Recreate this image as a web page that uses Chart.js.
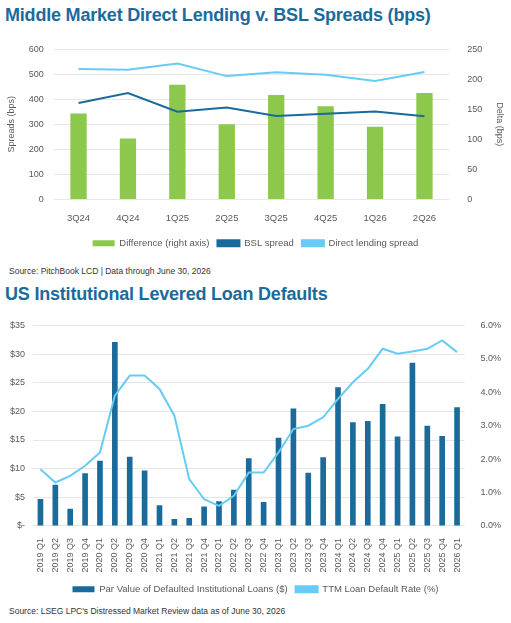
<!DOCTYPE html>
<html><head><meta charset="utf-8">
<script src="https://cdn.jsdelivr.net/npm/chart.js@4"></script>
<style>
body{margin:0;width:511px;height:623px;background:#fff;font-family:"Liberation Sans",Arial,sans-serif;position:relative;overflow:hidden}
.t{position:absolute;left:5px;color:#1b6a9c;font-weight:bold;font-size:18px;letter-spacing:-0.2px}
.s{position:absolute;left:9px;color:#333;font-size:8.5px}
.c{position:absolute;left:0;width:511px}
</style></head><body>
<div class="t" style="top:5px">Middle Market Direct Lending v. BSL Spreads (bps)</div>
<div class="c" style="top:34px;height:224px"><canvas id="c1"></canvas></div>
<div class="s" style="top:266px">Source: PitchBook LCD | Data through June 30, 2026</div>
<div class="t" style="top:284px">US Institutional Levered Loan Defaults</div>
<div class="c" style="top:312px;height:292px"><canvas id="c2"></canvas></div>
<div class="s" style="top:606px">Source: LSEG LPC's Distressed Market Review data as of June 30, 2026</div>
<script>
const quarters1=["3Q24","4Q24","1Q25","2Q25","3Q25","4Q25","1Q26","2Q26"];
const difference=[143,101,191,125,174,155,121,177];
const bslSpread=[385,425,350,367,333,342,351,332];
const dlSpread=[521,518,543,493,508,498,473,509];

const quarters2=["2019 Q1","2019 Q2","2019 Q3","2019 Q4","2020 Q1","2020 Q2","2020 Q3","2020 Q4","2021 Q1","2021 Q2","2021 Q3","2021 Q4","2022 Q1","2022 Q2","2022 Q3","2022 Q4","2023 Q1","2023 Q2","2023 Q3","2023 Q4","2024 Q1","2024 Q2","2024 Q3","2024 Q4","2025 Q1","2025 Q2","2025 Q3","2025 Q4","2026 Q1"];
const parDefaulted=[4.7,7.2,3.0,9.2,11.4,32.1,12.1,9.7,3.6,1.2,1.4,3.4,4.3,6.3,11.8,4.2,15.4,20.5,9.3,12.0,24.2,18.1,18.3,21.3,15.6,28.5,17.5,15.7,20.7];
const ttmRate=[1.7,1.3,1.5,1.8,2.2,3.9,4.5,4.5,4.1,3.3,1.4,0.8,0.6,0.9,1.6,1.6,2.2,2.9,3.0,3.25,3.8,4.3,4.7,5.3,5.15,5.22,5.3,5.55,5.2];

Chart.defaults.font.family='"Liberation Sans",Arial,sans-serif';
Chart.defaults.font.size=9;
Chart.defaults.color='#595959';
Chart.defaults.animation=false;
const grid={color:'#e6e6e6',drawTicks:false};
const legendOpts={position:'bottom',labels:{boxWidth:22,boxHeight:6,padding:8,font:{size:9.5},sort:(a,b)=>a.datasetIndex-b.datasetIndex}};

new Chart(document.getElementById('c1'),{
 data:{labels:quarters1,datasets:[
  {type:'bar',label:'Difference (right axis)',data:difference,backgroundColor:'#8cc84b',yAxisID:'y1',barPercentage:0.33,categoryPercentage:1,order:3},
  {type:'line',label:'BSL spread',data:bslSpread,borderColor:'#1a6b9c',backgroundColor:'#1a6b9c',borderWidth:2,pointRadius:0,yAxisID:'y',order:1},
  {type:'line',label:'Direct lending spread',data:dlSpread,borderColor:'#66ccf5',backgroundColor:'#66ccf5',borderWidth:2,pointRadius:0,yAxisID:'y',order:2}]},
 options:{responsive:true,maintainAspectRatio:false,layout:{padding:{left:4,right:4,top:4}},
  plugins:{legend:legendOpts,tooltip:{enabled:false}},
  scales:{
   x:{grid:{display:false},border:{display:false},ticks:{padding:6,font:{size:9.5}}},
   y:{min:0,max:600,ticks:{stepSize:100,padding:10},grid:grid,border:{display:false},title:{display:true,text:'Spreads (bps)',padding:2}},
   y1:{position:'right',min:0,max:250,ticks:{stepSize:50,padding:10},grid:{display:false},border:{display:false},title:{display:true,text:'Delta (bps)',padding:2}}
  }}
});

new Chart(document.getElementById('c2'),{
 data:{labels:quarters2,datasets:[
  {type:'bar',label:'Par Value of Defaulted Institutional Loans ($)',data:parDefaulted,backgroundColor:'#1a6b9c',yAxisID:'y',barPercentage:0.38,categoryPercentage:1,order:2},
  {type:'line',label:'TTM Loan Default Rate (%)',data:ttmRate,borderColor:'#66ccf5',backgroundColor:'#66ccf5',borderWidth:2,pointRadius:0,yAxisID:'y1',order:1}]},
 options:{responsive:true,maintainAspectRatio:false,layout:{padding:{left:2,right:2,top:2}},
  plugins:{legend:legendOpts,tooltip:{enabled:false}},
  scales:{
   x:{grid:{display:false},border:{display:false},ticks:{minRotation:90,maxRotation:90,autoSkip:false,padding:4}},
   y:{min:0,max:35,ticks:{stepSize:5,padding:8,callback:v=>v===0?'$-':'$'+v},grid:grid,border:{display:false}},
   y1:{position:'right',min:0,max:6,ticks:{stepSize:1,padding:8,callback:v=>v.toFixed(1)+'%'},grid:{display:false},border:{display:false}}
  }}
});
</script>
</body></html>
